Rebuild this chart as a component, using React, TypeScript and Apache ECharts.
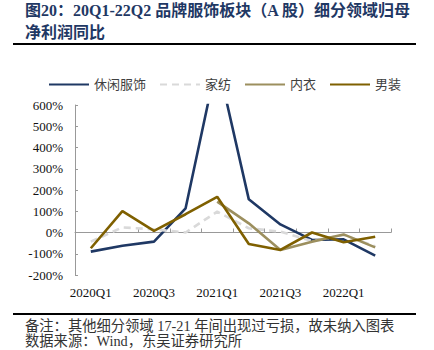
import React, { useEffect, useRef } from "react";
import * as echarts from "echarts";

const categories = ["2020Q1", "2020Q2", "2020Q3", "2020Q4", "2021Q1", "2021Q2", "2021Q3", "2021Q4", "2022Q1", "2022Q2"];
const casualWear = [-90, -62, -43, 114, 810, 156, 38, -35, -32, -109];
const homeTextile = [-43, 24, 15, 0, 98, 20, 4, -40, -12, -65];
const underwear = [null, null, null, null, 145, 43, -82, -43, -9, -70];
const menswear = [-74, 101, 8, 86, 168, -54, -82, 0, -46, -20];
const seriesNames = ["休闲服饰", "家纺", "内衣", "男装"];
const yMin = -200;
const yMax = 600;
const yStep = 100;

const titleLine1 = "图20：20Q1-22Q2 品牌服饰板块（A 股）细分领域归母";
const titleLine2 = "净利润同比";
const note1 = "备注：其他细分领域 17-21 年间出现过亏损，故未纳入图表";
const note2 = "数据来源：Wind，东吴证券研究所";

const FONT = "'Liberation Serif', 'Times New Roman', 'Noto Sans CJK SC', serif";

export default function App() {
  const ref = useRef<HTMLDivElement>(null);
  useEffect(() => {
    if (!ref.current) return;
    const chart = echarts.init(ref.current, null, { renderer: "svg" });
    const lineSeries = (name: string, data: any[], color: string, dashed = false) => ({
      name,
      type: "line",
      data,
      symbol: "none",
      smooth: false,
      connectNulls: false,
      lineStyle: { color, width: 2.6, type: dashed ? [7, 5] : "solid" },
      itemStyle: { color },
    });
    chart.setOption({
      animation: false,
      backgroundColor: "#ffffff",
      textStyle: { fontFamily: FONT },
      grid: { left: 75, right: 43, top: 105, bottom: 75, containLabel: false },
      legend: {
        top: 73,
        left: 43,
        itemWidth: 40,
        itemHeight: 12,
        itemGap: 13,
        itemStyle: { opacity: 0 },
        textStyle: { fontSize: 13, color: "#404040", fontFamily: FONT },
        data: seriesNames,
      },
      xAxis: {
        type: "category",
        data: categories,
        boundaryGap: true,
        axisLine: { show: true, onZero: true, lineStyle: { color: "#999999", width: 1 } },
        axisTick: { show: true, inside: true, length: 4, interval: 0, lineStyle: { color: "#999999" } },
        axisLabel: { interval: 1, margin: 11, fontSize: 13, color: "#111111", fontFamily: FONT },
        splitLine: { show: false },
      },
      yAxis: {
        type: "value",
        min: yMin,
        max: yMax,
        interval: yStep,
        axisLine: { show: true, lineStyle: { color: "#999999", width: 1 } },
        axisTick: { show: true, inside: true, length: 3, lineStyle: { color: "#999999" } },
        axisLabel: { formatter: "{value}%", margin: 12, fontSize: 13, color: "#111111", fontFamily: FONT },
        splitLine: { show: false },
      },
      series: [
        lineSeries(seriesNames[0], casualWear, "#1F3864"),
        lineSeries(seriesNames[1], homeTextile, "#D9D9D9", true),
        lineSeries(seriesNames[2], underwear, "#9C8F5E"),
        lineSeries(seriesNames[3], menswear, "#7F6000"),
      ],
      graphic: [
        {
          type: "text",
          style: { text: titleLine1, x: 25, y: 10, verticalAlign: "middle", fontSize: 16, fontWeight: "bold", fontFamily: FONT, fill: "#1F3864" },
        },
        {
          type: "text",
          style: { text: titleLine2, x: 25, y: 32, verticalAlign: "middle", fontSize: 16, fontWeight: "bold", fontFamily: FONT, fill: "#1F3864" },
        },
        { type: "rect", shape: { x: 13, y: 43, width: 403, height: 2 }, style: { fill: "#000000" } },
        { type: "rect", shape: { x: 13, y: 313, width: 403, height: 2 }, style: { fill: "#000000" } },
        {
          type: "text",
          style: { text: note1, x: 25, y: 326, verticalAlign: "middle", fontSize: 14.3, fontFamily: FONT, fill: "#333333" },
        },
        {
          type: "text",
          style: { text: note2, x: 25, y: 341, verticalAlign: "middle", fontSize: 14.3, fontFamily: FONT, fill: "#333333" },
        },
      ],
    });
    return () => chart.dispose();
  }, []);
  return <div ref={ref} style={{ position: "fixed", left: 0, top: 0, width: 434, height: 350 }} />;
}
